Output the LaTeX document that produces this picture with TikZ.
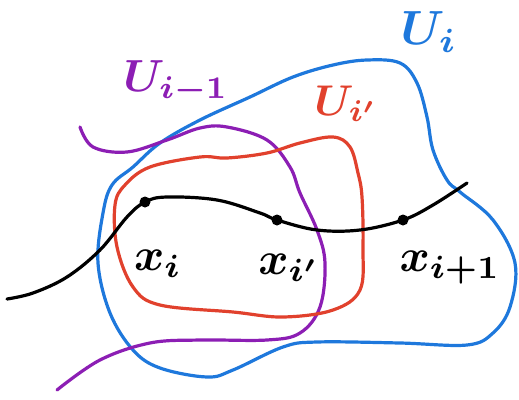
\documentclass[tikz,border=0pt]{standalone}
\usepackage{graphicx}
\begin{document}
\begin{tikzpicture}[x=1pt,y=-1pt,
  stroke/.style={line width=3.2pt,line cap=round,line join=round},
  dotpt/.style={circle,fill=black,inner sep=0pt,minimum size=11pt},
  lab/.style={inner sep=0pt}]
\definecolor{cblue}{RGB}{30,120,220}
\definecolor{cpurple}{RGB}{140,30,180}
\definecolor{cred}{RGB}{225,65,45}
\useasboundingbox (0,0) rectangle (519,399);
% blue region U_i
\draw[stroke,cblue] plot[smooth cycle,tension=0.6] coordinates {
 (133,167) (160,143) (200,120) (250,97) (293,77) (333,65) (367,60) (400,63)
 (417,83) (427,117) (433,150) (447,180) (460,192) (493,220) (515,263) (510,307)
 (493,333) (467,345) (400,343) (317,342) (283,347) (233,370) (207,377) (160,368)
 (133,350) (110,313) (98,263) (103,213) (112,185)};
% purple U_{i-1}
\draw[stroke,cpurple] plot[smooth,tension=0.6] coordinates {
 (80,127) (93,147) (127,152) (167,140) (200,128) (227,127) (267,140) (290,167)
 (300,193) (317,230) (325,263) (320,307) (300,333) (267,340) (200,340) (150,343)
 (100,360) (57,390)};
% red U_{i'}
\draw[stroke,cred] plot[smooth cycle,tension=0.6] coordinates {
 (150,167) (200,157) (227,158) (267,153) (300,143) (333,137) (350,147) (358,173)
 (362,197) (363,247) (360,290) (333,310) (283,317) (233,312) (160,305) (133,287)
 (117,247) (115,205) (125,185)};
% black path
\node[dotpt] (xi) at (145,202) {};
\node[dotpt] (xip) at (277,220) {};
\node[dotpt] (xin) at (403,220) {};
\draw[stroke,black] plot[smooth,tension=0.6] coordinates {
 (7,299) (33,293) (67,277) (100,250) (127,217) (145,202) (167,197) (217,200)
 (260,213) (277,220) (317,230) (360,230) (403,220) (433,205) (467,183)};
% labels
\node[lab,cblue] (Ui) at (429,32) {\scalebox{4.8}{\boldmath$U_i$}};
\node[lab,cpurple] (Uim) at (176,82) {\scalebox{4.5}{\boldmath$U_{i-1}$}};
\node[lab,cred] (Uip) at (346,104) {\scalebox{4.3}{\boldmath$U_{i'}$}};
\node[lab] (lxi) at (158,264) {\scalebox{4.6}{\boldmath$x_i$}};
\node[lab] (lxip) at (289,268) {\scalebox{4.6}{\boldmath$x_{i'}$}};
\node[lab] (lxin) at (450,268) {\scalebox{4.6}{\boldmath$x_{i+1}$}};
\end{tikzpicture}
\end{document}
